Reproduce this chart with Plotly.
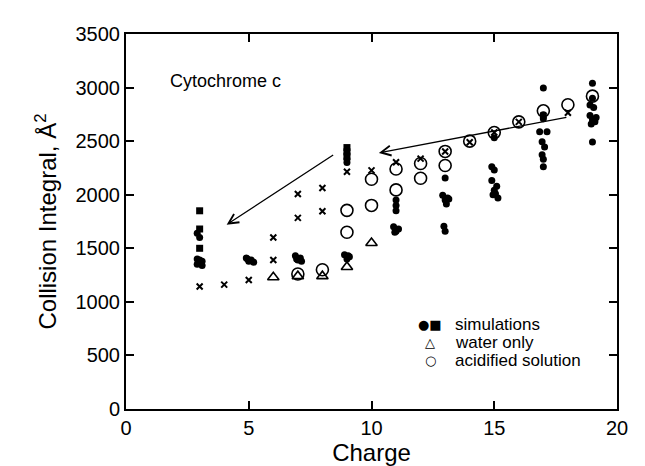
import plotly.graph_objects as go

# simulations (filled circles)
sim_q = [2.9, 3.0, 2.9, 3.1, 3.0, 2.9, 3.1, 3.0,
         4.9, 5.1, 5.0, 5.2, 4.95,
         6.9, 7.1, 7.0, 7.15, 6.95,
         9.0, 9.0, 8.9, 9.1, 9.0, 9.05,
         11.0, 11.0, 11.0, 10.9, 11.1, 11.0, 10.95,
         13.0, 12.9, 13.1, 13.0, 13.05, 13.15, 12.95, 13.0,
         15.0, 14.9, 15.0, 14.9, 15.1, 15.0, 14.95, 15.15, 15.05,
         17.0, 17.0, 17.0, 16.85, 17.15, 16.95, 17.05, 16.95, 17.0, 17.0,
         19.0, 19.0, 18.9, 19.05, 18.9, 19.0, 19.1, 18.95, 19.15, 19.0]
sim_ccs = [1640, 1600, 1400, 1380, 1360, 1350, 1340, 1390,
           1410, 1390, 1380, 1370, 1400,
           1430, 1410, 1390, 1380, 1400,
           2330, 2300, 1440, 1420, 1400, 1430,
           1950, 1900, 1850, 1700, 1680, 1660, 1650,
           2155, 1996, 1970, 1950, 1913, 1960, 1705, 1660,
           2532, 2260, 2230, 2133, 2080, 2042, 2000, 1970, 2010,
           2997, 2746, 2709, 2587, 2587, 2495, 2446, 2372, 2332, 2262,
           3040, 2900, 2838, 2813, 2740, 2700, 2680, 2660, 2720, 2492]

# simulations (filled squares)
sq_q = [3, 3, 3, 9, 9, 9]
sq_ccs = [1850, 1680, 1500, 2440, 2400, 2360]

# water only (open triangles)
water_q = [6, 7, 8, 9, 10]
water_ccs = [1229, 1240, 1240, 1326, 1549]

# acidified solution (open circles)
acid_q = [7, 8, 9, 9, 10, 10, 11, 11, 12, 12, 13, 13, 14, 15, 16, 17, 18, 19]
acid_ccs = [1260, 1300, 1650, 1854, 1900, 2144, 2045, 2240, 2154, 2291,
            2273, 2404, 2500, 2580, 2680, 2783, 2840, 2920]

# crosses
x_q = [3, 4, 5, 6, 6, 7, 7, 8, 8, 9, 10, 11, 12, 13, 14, 15, 16, 17, 18]
x_ccs = [1143, 1161, 1204, 1390, 1601, 1784, 2007, 1845, 2062, 2214, 2227,
         2303, 2337, 2404, 2490, 2580, 2680, 2740, 2765]

font = "Liberation Sans"

fig = go.Figure()
fig.add_trace(go.Scatter(x=acid_q, y=acid_ccs, mode="markers",
                         marker=dict(symbol="circle-open", size=12, color="black",
                                     line=dict(width=1.6))))
fig.add_trace(go.Scatter(x=water_q, y=water_ccs, mode="markers",
                         marker=dict(symbol="triangle-up-open", size=10, color="black",
                                     line=dict(width=1.6))))
fig.add_trace(go.Scatter(x=x_q, y=x_ccs, mode="markers",
                         marker=dict(symbol="x-thin-open", size=6, color="black",
                                     line=dict(width=2))))
fig.add_trace(go.Scatter(x=sim_q, y=sim_ccs, mode="markers",
                         marker=dict(symbol="circle", size=7, color="black")))
fig.add_trace(go.Scatter(x=sq_q, y=sq_ccs, mode="markers",
                         marker=dict(symbol="square", size=7, color="black")))

# arrows
fig.add_annotation(x=4.1, y=1720, ax=8.5, ay=2380, xref="x", yref="y",
                   axref="x", ayref="y", text="", showarrow=True,
                   arrowhead=5, arrowsize=1.5, arrowwidth=1.3, arrowcolor="black")
fig.add_annotation(x=10.3, y=2390, ax=18.0, ay=2725, xref="x", yref="y",
                   axref="x", ayref="y", text="", showarrow=True,
                   arrowhead=5, arrowsize=1.5, arrowwidth=1.3, arrowcolor="black")

fig.add_annotation(x=1.7, y=3060, xref="x", yref="y", text="Cytochrome c",
                   showarrow=False, xanchor="left",
                   font=dict(family=font, size=18, color="black"))

legend_rows = [("●■", "simulations", 785), ("△", "water only", 620),
               ("○", "acidified solution", 455)]
for sym, label, yv in legend_rows:
    fig.add_annotation(x=12.4, y=yv, xref="x", yref="y", text=sym,
                       showarrow=False, xanchor="center",
                       font=dict(family="DejaVu Sans", size=13, color="black"))
    fig.add_annotation(x=13.3, y=yv, xref="x", yref="y", text=label,
                       showarrow=False, xanchor="left",
                       font=dict(family=font, size=17, color="black"))

axis_style = dict(showline=True, linewidth=2, linecolor="black", mirror="ticks",
                  ticks="inside", ticklen=8, tickwidth=1.5, tickcolor="black",
                  showgrid=False, zeroline=False,
                  tickfont=dict(family=font, size=20, color="black"))

fig.update_xaxes(range=[0, 20], tick0=0, dtick=5,
                 title=dict(text="Charge", standoff=6,
                            font=dict(family=font, size=24, color="black")),
                 **axis_style)
fig.update_yaxes(range=[0, 3500], tick0=0, dtick=500,
                 title=dict(text="Collision Integral, Å<sup>2</sup>", standoff=12,
                            font=dict(family=font, size=24, color="black")),
                 **axis_style)

fig.update_layout(width=645, height=466, showlegend=False,
                  plot_bgcolor="white", paper_bgcolor="white",
                  margin=dict(l=118, r=36, t=26, b=59))

fig.write_html("out.html")
